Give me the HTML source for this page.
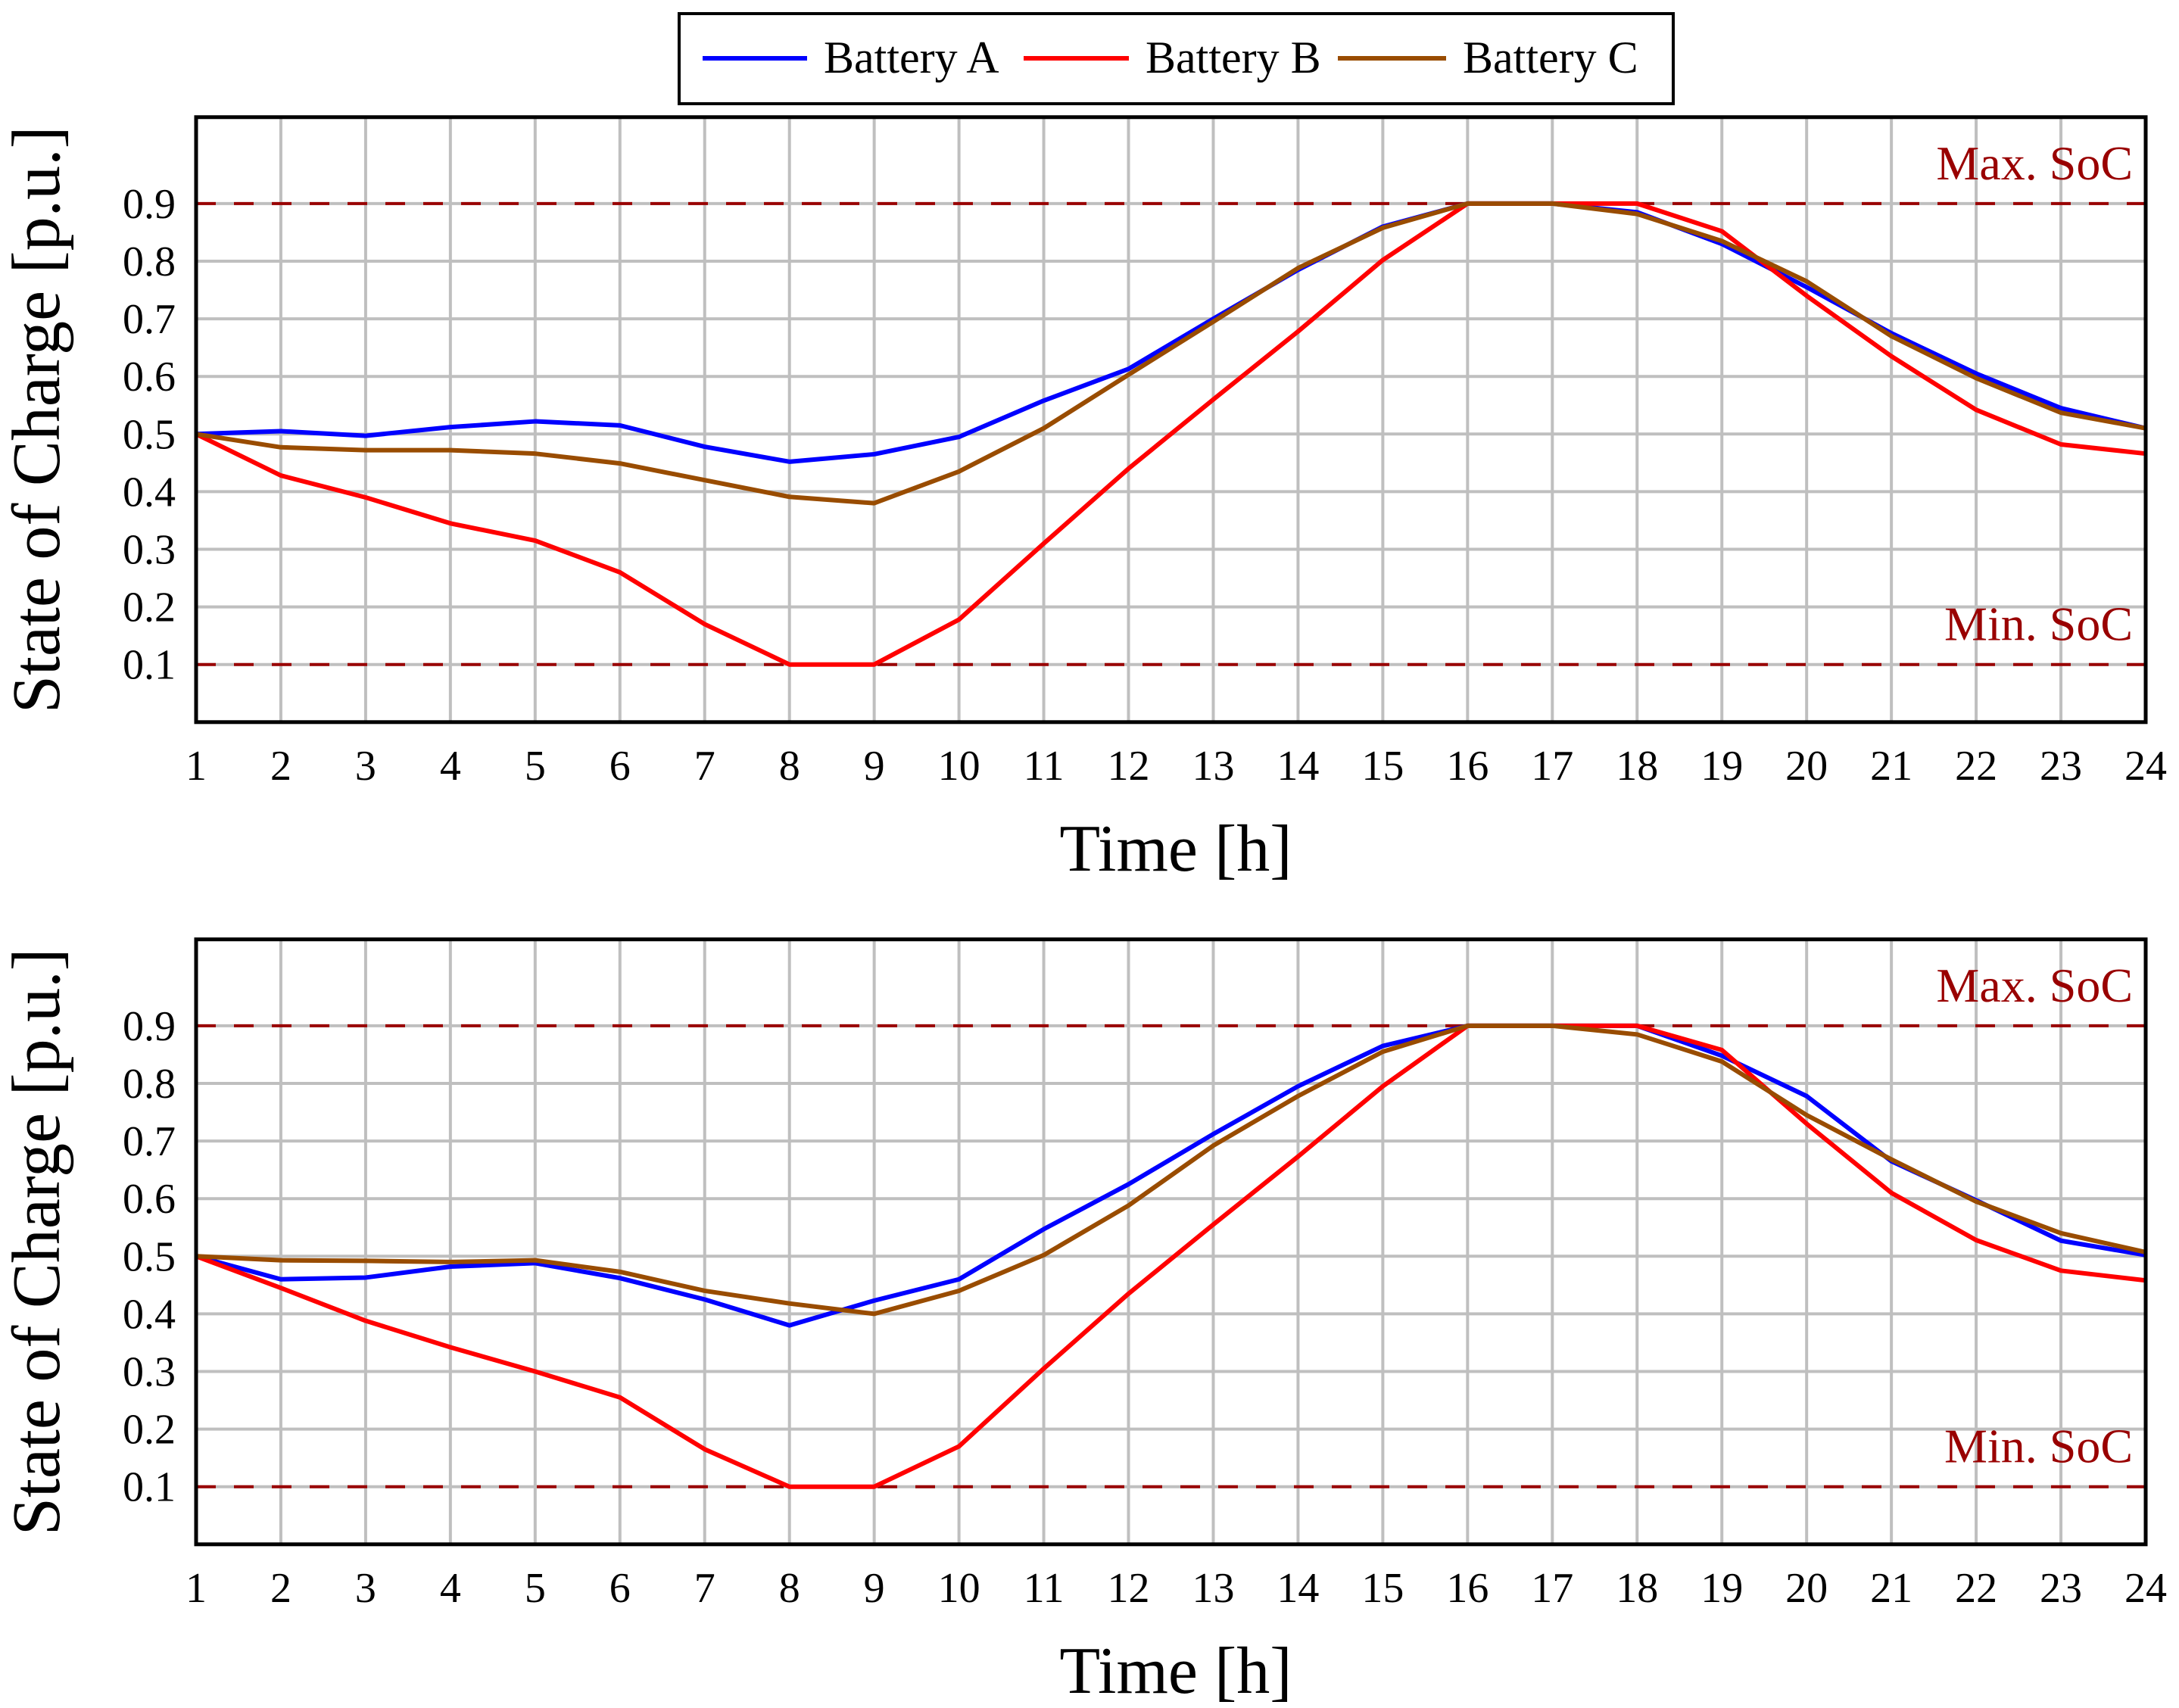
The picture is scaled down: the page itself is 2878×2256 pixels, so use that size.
<!DOCTYPE html>
<html><head><meta charset="utf-8"><style>
html,body{margin:0;padding:0;background:#fff}
svg{display:block}
text{font-family:"Liberation Serif",serif}
</style></head><body>
<svg id="chart" width="2878" height="2256" viewBox="0 0 2878 2256" xmlns="http://www.w3.org/2000/svg">
<g id="legend">
<rect x="897" y="18" width="1313" height="119" fill="#fff" stroke="#000" stroke-width="4"/>
<line x1="928" y1="77" x2="1066" y2="77" stroke="#0000ff" stroke-width="6"/>
<text x="1088" y="96" font-size="60">Battery A</text>
<line x1="1352" y1="77" x2="1491" y2="77" stroke="#ff0000" stroke-width="6"/>
<text x="1513" y="96" font-size="60">Battery B</text>
<line x1="1767" y1="77" x2="1910" y2="77" stroke="#994c00" stroke-width="6"/>
<text x="1932" y="96" font-size="60">Battery C</text>
</g>
</svg>
<script>
const hours = [1,2,3,4,5,6,7,8,9,10,11,12,13,14,15,16,17,18,19,20,21,22,23,24];
const yTicks = [0.1,0.2,0.3,0.4,0.5,0.6,0.7,0.8,0.9];
const yTickLabels = ["0.1","0.2","0.3","0.4","0.5","0.6","0.7","0.8","0.9"];
const minSoc = 0.1;
const maxSoc = 0.9;
const topA = [0.50,0.505,0.497,0.512,0.522,0.515,0.478,0.452,0.465,0.495,0.558,0.613,0.70,0.785,0.86,0.90,0.90,0.885,0.83,0.755,0.675,0.605,0.545,0.51];
const topB = [0.50,0.428,0.39,0.345,0.315,0.26,0.17,0.10,0.10,0.178,0.31,0.44,0.56,0.678,0.802,0.90,0.90,0.90,0.852,0.74,0.635,0.542,0.482,0.466];
const topC = [0.50,0.477,0.472,0.472,0.466,0.449,0.42,0.391,0.38,0.435,0.51,0.603,0.695,0.788,0.858,0.90,0.90,0.882,0.835,0.765,0.67,0.597,0.537,0.51];
const botA = [0.50,0.46,0.463,0.482,0.488,0.462,0.425,0.38,0.423,0.46,0.547,0.625,0.712,0.795,0.865,0.90,0.90,0.90,0.848,0.778,0.665,0.597,0.527,0.502];
const botB = [0.50,0.445,0.388,0.342,0.30,0.255,0.165,0.10,0.10,0.17,0.305,0.435,0.555,0.673,0.795,0.90,0.90,0.90,0.858,0.73,0.61,0.528,0.475,0.458];
const botC = [0.50,0.493,0.492,0.49,0.493,0.473,0.44,0.418,0.40,0.44,0.502,0.588,0.692,0.778,0.855,0.90,0.90,0.885,0.838,0.745,0.668,0.595,0.54,0.507];

const NS = "http://www.w3.org/2000/svg";
const svg = document.getElementById('chart');
function mk(tag, attrs, parent){const e=document.createElementNS(NS,tag);for(const k in attrs)e.setAttribute(k,attrs[k]);(parent||svg).appendChild(e);return e;}

const X0=259, X1=2834;
function xs(h){return X0+(h-1)*(X1-X0)/23;}

function panel(idx, off, sA, sB, sC){
  const g=mk('g',{});
  
  
  const Yb=953.8+off, per=761;
  const ys=v=>Yb-v*per;
  const top=ys(1.05);
  hours.forEach(h=>{
    const l=mk('line',{x1:xs(h),x2:xs(h),y1:top,y2:Yb,stroke:'#bfbfbf','stroke-width':4},g);
    
    
    const t=mk('text',{x:xs(h),y:Yb+76,'font-size':56,'text-anchor':'middle'},g);
    t.textContent=h;
    
    
  });
  yTicks.forEach((v,i)=>{
    const l=mk('line',{x1:X0,x2:X1,y1:ys(v),y2:ys(v),stroke:'#bfbfbf','stroke-width':4},g);
    
    
    const t=mk('text',{x:232,y:ys(v)+19,'font-size':56,'text-anchor':'end'},g);
    t.textContent=yTickLabels[i];
    
    
  });
  [[minSoc,'min-soc-line'],[maxSoc,'max-soc-line']].forEach(([v,n])=>{
    const l=mk('line',{x1:X0,x2:X1,y1:ys(v),y2:ys(v),stroke:'#990000','stroke-width':4,'stroke-dasharray':'26 24'},g);
    
    
  });
  const tmax=mk('text',{x:2817,y:ys(maxSoc)-32,'font-size':64,'text-anchor':'end',fill:'#990000'},g);
  tmax.textContent='Max. SoC';
  
  
  const tmin=mk('text',{x:2817,y:ys(minSoc)-32,'font-size':64,'text-anchor':'end',fill:'#990000'},g);
  tmin.textContent='Min. SoC';
  
  
  [[sA,'#0000ff','a'],[sB,'#ff0000','b'],[sC,'#994c00','c']].forEach(([s,c,n])=>{
    const p=mk('polyline',{points:s.map((v,i)=>xs(hours[i])+','+ys(v)).join(' '),fill:'none',stroke:c,'stroke-width':6,'stroke-linejoin':'round'},g);
    
    
  });
  const fr=mk('rect',{x:X0,y:top,width:X1-X0,height:Yb-top,fill:'none',stroke:'#000','stroke-width':5},g);
  
  
  const xt=mk('text',{x:1553,y:Yb+196,'font-size':88,'text-anchor':'middle'},g);
  xt.textContent='Time [h]';
  
  
  const cy=(top+Yb)/2;
  const yt=mk('text',{x:0,y:0,'font-size':90,'text-anchor':'middle',transform:'translate(78,'+cy+') rotate(-90)'},g);
  yt.textContent='State of Charge [p.u.]';
  
  
}
panel('top',0,topA,topB,topC);
panel('bottom',1086,botA,botB,botC);
svg.appendChild(document.getElementById('legend'));
</script>
</body></html>
